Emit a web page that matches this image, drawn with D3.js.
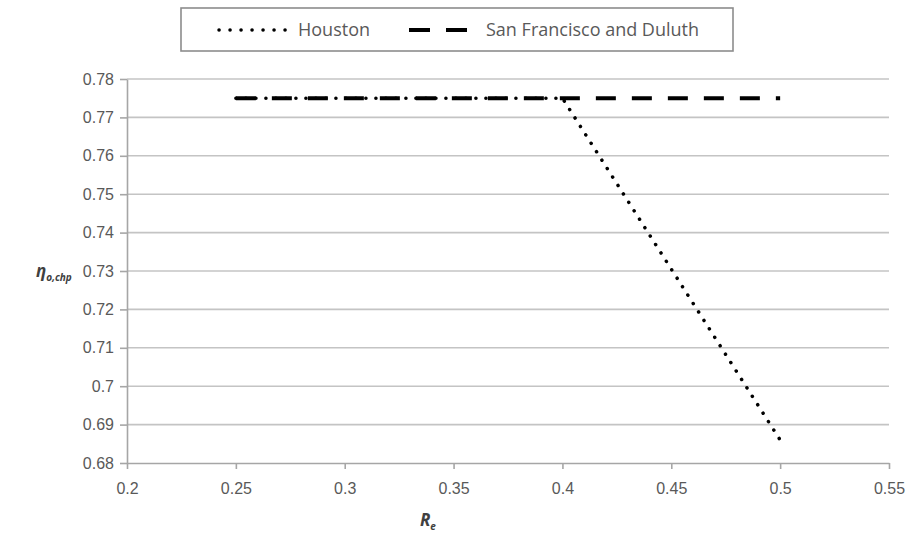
<!DOCTYPE html>
<html>
<head>
<meta charset="utf-8">
<script src="https://cdn.jsdelivr.net/npm/d3@7"></script>
<style>
  body { margin: 0; background: #fff; }
  svg { display: block; font-family: "Open Sans", "DejaVu Sans", sans-serif; }
</style>
</head>
<body>
<svg id="chart" width="911" height="540"></svg>
<script>
// Overall CHP efficiency versus electric ratio
const xTicks = [0.2, 0.25, 0.3, 0.35, 0.4, 0.45, 0.5, 0.55];
const yTicks = [0.68, 0.69, 0.7, 0.71, 0.72, 0.73, 0.74, 0.75, 0.76, 0.77, 0.78];

const houstonRe  = [0.25, 0.30, 0.35, 0.40, 0.45, 0.50];
const houstonEta = [0.775, 0.775, 0.775, 0.775, 0.7305, 0.686];

const sfRe  = [0.25, 0.30, 0.35, 0.40, 0.45, 0.50];
const sfEta = [0.775, 0.775, 0.775, 0.775, 0.775, 0.775];

const seriesNames = ["Houston", "San Francisco and Duluth"];

const svg = d3.select("#chart");
const plot = { left: 127, right: 889, top: 79, bottom: 463 };

const x = d3.scaleLinear().domain([0.2, 0.55]).range([plot.left, plot.right]);
const y = d3.scaleLinear().domain([0.68, 0.78]).range([plot.bottom, plot.top]);

const grid = "#c4c4c4";
const axisCol = "#a6a6a6";
const textCol = "#595959";

// horizontal gridlines
svg.append("g").selectAll("line").data(yTicks.slice(1)).join("line")
  .attr("x1", plot.left).attr("x2", plot.right)
  .attr("y1", d => y(d)).attr("y2", d => y(d))
  .attr("stroke", grid).attr("stroke-width", 1.6);

// y axis
const yAxis = svg.append("g").attr("transform", `translate(${plot.left},0)`)
  .call(d3.axisLeft(y).tickValues(yTicks).tickSize(7).tickSizeOuter(0)
    .tickFormat(d => d3.format("")(+d.toFixed(2))));
// x axis
const xAxis = svg.append("g").attr("transform", `translate(0,${plot.bottom})`)
  .call(d3.axisBottom(x).tickValues(xTicks).tickSize(6).tickSizeOuter(0)
    .tickFormat(d => d3.format("")(+d.toFixed(2))));

[yAxis, xAxis].forEach(g => {
  g.select(".domain").attr("stroke", axisCol).attr("stroke-width", 1.6);
  g.selectAll(".tick line").attr("stroke", axisCol).attr("stroke-width", 1.6);
  g.selectAll(".tick text").attr("fill", textCol).attr("font-size", 16);
});
yAxis.selectAll(".tick text").attr("x", -13);
xAxis.selectAll(".tick text").attr("y", 20);

const line = d3.line().x(d => x(d[0])).y(d => y(d[1]));

// San Francisco and Duluth: long dashes
svg.append("path")
  .datum(d3.zip(sfRe, sfEta))
  .attr("d", line)
  .attr("fill", "none").attr("stroke", "#000")
  .attr("stroke-width", 4).attr("stroke-dasharray", "20,16");

// Houston: round dots
svg.append("path")
  .datum(d3.zip(houstonRe, houstonEta))
  .attr("d", line)
  .attr("fill", "none").attr("stroke", "#000")
  .attr("stroke-width", 3.5).attr("stroke-linecap", "round")
  .attr("stroke-dasharray", "0.1,9.9");

// axis titles
const yt = svg.append("text").attr("x", 36).attr("y", 277)
  .attr("font-weight", "bold").attr("font-style", "italic")
  .attr("fill", "#404040").attr("font-size", 17);
yt.append("tspan").text("η");
yt.append("tspan").attr("dy", 4).attr("font-size", 10).text("o,chp");

const xt = svg.append("text").attr("x", 420).attr("y", 526)
  .attr("font-weight", "bold").attr("font-style", "italic")
  .attr("fill", "#404040").attr("font-size", 17);
xt.append("tspan").text("R");
xt.append("tspan").attr("dy", 4).attr("font-size", 10).text("e");

// legend
const lg = svg.append("g");
lg.append("rect").attr("x", 181).attr("y", 8).attr("width", 552).attr("height", 43)
  .attr("fill", "#fff").attr("stroke", "#8c8c8c").attr("stroke-width", 1.6);
lg.append("line").attr("x1", 219).attr("x2", 287).attr("y1", 30).attr("y2", 30)
  .attr("stroke", "#000").attr("stroke-width", 3.5).attr("stroke-linecap", "round")
  .attr("stroke-dasharray", "0.1,10.9");
lg.append("text").attr("x", 298).attr("y", 36).attr("fill", textCol)
  .attr("font-size", 18).text(seriesNames[0]);
lg.append("line").attr("x1", 409).attr("x2", 467).attr("y1", 30).attr("y2", 30)
  .attr("stroke", "#000").attr("stroke-width", 4).attr("stroke-dasharray", "21,16");
lg.append("text").attr("x", 486).attr("y", 36).attr("fill", textCol)
  .attr("font-size", 18).text(seriesNames[1]);
</script>
</body>
</html>
